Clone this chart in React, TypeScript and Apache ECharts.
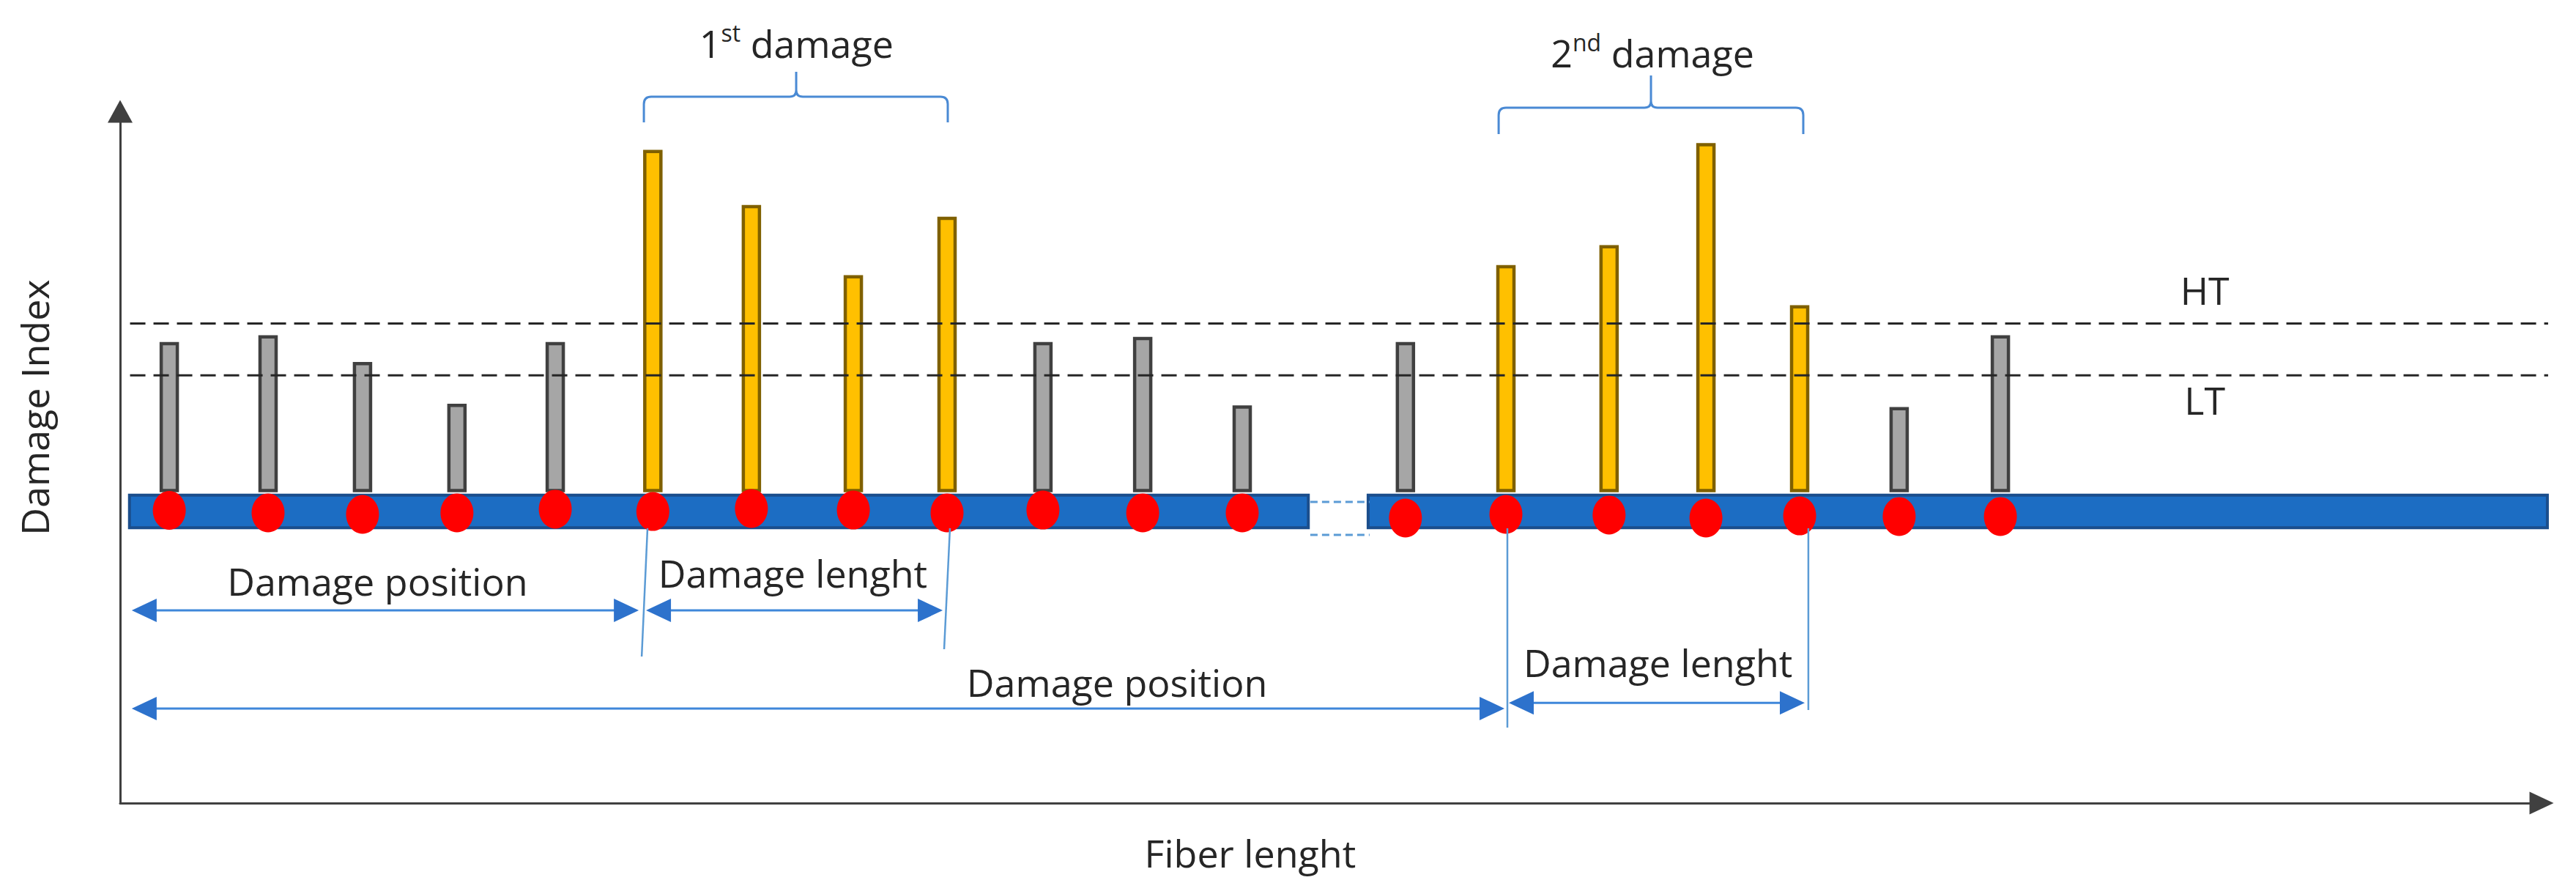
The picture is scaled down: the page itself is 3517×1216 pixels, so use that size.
import React, { useEffect, useRef } from "react";
import * as echarts from "echarts";

// ---------------- data (fiber length 0–100, damage index units) ----------------
const sensorPosition = [2.03, 6.11, 10.01, 13.91, 17.97, 22.0, 26.07, 30.28, 34.15, 38.11, 42.23, 46.34, 53.08, 57.23, 61.49, 65.49, 69.36, 73.47, 77.65];
const damageIndex = [0.88, 0.92, 0.76, 0.51, 0.88, 2.03, 1.7, 1.28, 1.63, 0.88, 0.91, 0.5, 0.88, 1.34, 1.46, 2.07, 1.1, 0.49, 0.92];
const sensorLevel = [-0.118, -0.133, -0.142, -0.133, -0.111, -0.125, -0.107, -0.116, -0.133, -0.116, -0.133, -0.133, -0.164, -0.142, -0.146, -0.164, -0.151, -0.155, -0.155];
const HT = 1.0;
const LT = 0.69;
const thresholdSpan = [0.41, 100.27];
const fiberSegments = [
  [0.386, 49.07],
  [51.54, 100.24],
];
const fiberBand = [-0.027, -0.222];
const fiberBreak = [[49.15, 51.6]];
const fiberBreakLevels = [-0.068, -0.265];
// [xStart, y, xEnd]
const dimensionArrows = [
  [0.48, -0.717, 21.42],
  [21.72, -0.717, 33.97],
  [0.48, -1.304, 57.17],
  [57.35, -1.27, 69.57],
];
// [x1, y1, x2, y2]
const extensionLines = [
  [21.78, -0.225, 21.54, -0.993],
  [34.27, -0.225, 34.03, -0.949],
  [57.29, -0.225, 57.29, -1.418],
  [69.72, -0.225, 69.72, -1.313],
];
// [xLeft, yEnd, xRight, xTip, yLine, yTip]
const braces = [
  [21.63, 2.204, 34.18, 27.92, 2.358, 2.507],
  [56.93, 2.134, 69.51, 63.22, 2.292, 2.485],
];
const labels = [
  { text: "Damage Index", x: -3.54, y: 0.498, rotate: true },
  { text: "Fiber lenght", x: 46.67, y: -2.164 },
  { text: "1{s|st} damage", x: 27.93, y: 2.682 },
  { text: "2{s|nd} damage", x: 63.28, y: 2.621 },
  { text: "Damage position", x: 10.63, y: -0.539 },
  { text: "Damage lenght", x: 27.78, y: -0.489 },
  { text: "Damage position", x: 41.17, y: -1.143 },
  { text: "Damage lenght", x: 63.51, y: -1.024 },
  { text: "HT", x: 86.09, y: 1.204 },
  { text: "LT", x: 86.09, y: 0.546 },
];

// ---------------- styles ----------------
const FONT = "'Open Sans', 'Noto Sans', sans-serif";
const TEXT = "#262626";
const BAR_W = 22;
const ARROW_LINE = "#3F87DA";
const ARROW_HEAD = "#2D72CC";
const THIN_BLUE = "#5B9BD5";

function buildOption(): any {
  return {
    animation: false,
    backgroundColor: "#ffffff",
    grid: { left: 164, top: 152, width: 3306, height: 944, containLabel: false },
    xAxis: {
      type: "value",
      min: 0,
      max: 100,
      axisLine: {
        show: true,
        onZero: false,
        symbol: ["none", "triangle"],
        symbolSize: [31, 33],
        lineStyle: { color: "#404040", width: 3 },
      },
      axisTick: { show: false },
      axisLabel: { show: false },
      splitLine: { show: false },
    },
    yAxis: {
      type: "value",
      min: -1.87,
      max: 2.27,
      axisLine: {
        show: true,
        onZero: false,
        symbol: ["none", "triangle"],
        symbolSize: [34, 31],
        lineStyle: { color: "#404040", width: 3 },
      },
      axisTick: { show: false },
      axisLabel: { show: false },
      splitLine: { show: false },
    },
    series: [
      {
        type: "custom",
        name: "fiber",
        z: 2,
        clip: false,
        silent: true,
        data: fiberSegments,
        renderItem: (params: any, api: any) => {
          const a = api.coord([api.value(0), fiberBand[0]]);
          const b = api.coord([api.value(1), fiberBand[1]]);
          return {
            type: "rect",
            shape: { x: a[0], y: a[1], width: b[0] - a[0], height: b[1] - a[1] },
            style: { fill: "#1C6DC3", stroke: "#1B4E8C", lineWidth: 4 },
          };
        },
      },
      {
        type: "custom",
        name: "break",
        z: 2,
        clip: false,
        silent: true,
        data: fiberBreak,
        renderItem: (params: any, api: any) => {
          const x1 = api.value(0);
          const x2 = api.value(1);
          return {
            type: "group",
            children: fiberBreakLevels.map((lv) => {
              const a = api.coord([x1, lv]);
              const b = api.coord([x2, lv]);
              return {
                type: "line",
                shape: { x1: a[0], y1: a[1], x2: b[0], y2: b[1] },
                style: { stroke: THIN_BLUE, lineWidth: 3, lineDash: [10, 6] },
              };
            }),
          };
        },
      },
      {
        type: "custom",
        name: "damage index",
        z: 3,
        clip: false,
        silent: true,
        data: sensorPosition.map((x, i) => [x, damageIndex[i]]),
        renderItem: (params: any, api: any) => {
          const x = api.value(0);
          const v = api.value(1);
          const base = api.coord([x, 0]);
          const top = api.coord([x, v]);
          const hot = v > HT;
          return {
            type: "rect",
            shape: { x: base[0] - BAR_W / 2, y: top[1], width: BAR_W, height: base[1] - top[1] },
            style: {
              fill: hot ? "#FFC000" : "#A6A6A6",
              stroke: hot ? "#7F6000" : "#404040",
              lineWidth: 4.5,
            },
          };
        },
      },
      {
        type: "custom",
        name: "thresholds",
        z: 4,
        clip: false,
        silent: true,
        data: [
          [thresholdSpan[0], HT],
          [thresholdSpan[0], LT],
        ],
        renderItem: (params: any, api: any) => {
          const v = api.value(1);
          const a = api.coord([thresholdSpan[0], v]);
          const b = api.coord([thresholdSpan[1], v]);
          return {
            type: "line",
            shape: { x1: a[0], y1: a[1], x2: b[0], y2: b[1] },
            style: { stroke: TEXT, lineWidth: 3, lineDash: [21, 11] },
          };
        },
      },
      {
        type: "scatter",
        name: "sensors",
        z: 5,
        silent: true,
        symbol: "circle",
        symbolSize: [45, 53],
        itemStyle: { color: "#FF0000", opacity: 1 },
        data: sensorPosition.map((x, i) => [x, sensorLevel[i]]),
      },
      {
        type: "custom",
        name: "extension lines",
        z: 6,
        clip: false,
        silent: true,
        data: extensionLines,
        renderItem: (params: any, api: any) => {
          const a = api.coord([api.value(0), api.value(1)]);
          const b = api.coord([api.value(2), api.value(3)]);
          return {
            type: "line",
            shape: { x1: a[0], y1: a[1], x2: b[0], y2: b[1] },
            style: { stroke: THIN_BLUE, lineWidth: 2.5 },
          };
        },
      },
      {
        type: "custom",
        name: "dimension arrows",
        z: 6,
        clip: false,
        silent: true,
        data: dimensionArrows,
        renderItem: (params: any, api: any) => {
          const y = api.value(1);
          const a = api.coord([api.value(0), y]);
          const b = api.coord([api.value(2), y]);
          const L = 34;
          const H = 16;
          return {
            type: "group",
            children: [
              {
                type: "line",
                shape: { x1: a[0] + L - 2, y1: a[1], x2: b[0] - L + 2, y2: b[1] },
                style: { stroke: ARROW_LINE, lineWidth: 3 },
              },
              {
                type: "polygon",
                shape: { points: [[a[0], a[1]], [a[0] + L, a[1] - H], [a[0] + L, a[1] + H]] },
                style: { fill: ARROW_HEAD },
              },
              {
                type: "polygon",
                shape: { points: [[b[0], b[1]], [b[0] - L, b[1] - H], [b[0] - L, b[1] + H]] },
                style: { fill: ARROW_HEAD },
              },
            ],
          };
        },
      },
      {
        type: "custom",
        name: "braces",
        z: 6,
        clip: false,
        silent: true,
        data: braces,
        renderItem: (params: any, api: any) => {
          const L = api.coord([api.value(0), api.value(1)]);
          const R = api.coord([api.value(2), api.value(1)]);
          const T = api.coord([api.value(3), api.value(5)]);
          const yl = api.coord([api.value(3), api.value(4)])[1];
          const r = 10;
          const c = 9;
          const d =
            `M${L[0]} ${L[1]} L${L[0]} ${yl + r} Q${L[0]} ${yl} ${L[0] + r} ${yl} ` +
            `L${T[0] - c} ${yl} Q${T[0]} ${yl} ${T[0]} ${yl - c} L${T[0]} ${T[1]} ` +
            `M${T[0]} ${yl - c} Q${T[0]} ${yl} ${T[0] + c} ${yl} ` +
            `L${R[0] - r} ${yl} Q${R[0]} ${yl} ${R[0]} ${yl + r} L${R[0]} ${R[1]}`;
          return {
            type: "path",
            shape: { pathData: d },
            style: { stroke: "#4A8AD4", lineWidth: 3, fill: "none" },
          };
        },
      },
      {
        type: "custom",
        name: "labels",
        z: 7,
        clip: false,
        silent: true,
        data: labels.map((l) => [l.x, l.y]),
        renderItem: (params: any, api: any) => {
          const lab = labels[params.dataIndex];
          const p = api.coord([api.value(0), api.value(1)]);
          return {
            type: "text",
            x: p[0],
            y: p[1],
            rotation: lab.rotate ? Math.PI / 2 : 0,
            style: {
              text: lab.text,
              fill: TEXT,
              fontSize: 52,
              fontFamily: FONT,
              align: "center",
              verticalAlign: "middle",
              lineHeight: 60,
              rich: {
                s: {
                  fontSize: 32,
                  lineHeight: 40,
                  verticalAlign: "top",
                  fill: TEXT,
                  fontFamily: FONT,
                },
              },
            },
          };
        },
      },
    ],
  };
}

export default function App() {
  const ref = useRef<HTMLDivElement>(null);
  useEffect(() => {
    if (!ref.current) return;
    const chart = echarts.init(ref.current, null, { renderer: "svg" });
    chart.setOption(buildOption());
    return () => chart.dispose();
  }, []);
  return (
    <div
      ref={ref}
      style={{ position: "absolute", left: 0, top: 0, width: 3517, height: 1216, background: "#ffffff" }}
    />
  );
}
